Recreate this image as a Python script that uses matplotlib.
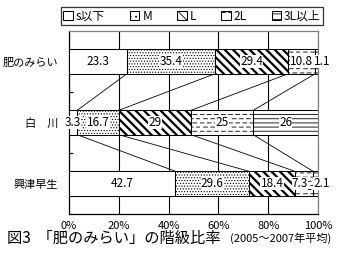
import numpy as np
import matplotlib
matplotlib.use("Agg")
import matplotlib.pyplot as plt
from matplotlib import hatch as mhatch
from matplotlib.path import Path
from matplotlib.patches import Patch

plt.rcParams['font.family'] = ['Noto Sans CJK JP', 'DejaVu Sans']

# ---- data ----
categories = ['肥のみらい', '白\u3000川', '興津早生']
series_names = ['s以下', 'M', 'L', '2L', '3L以上']
s_small = [23.3, 3.3, 42.7]
s_M = [35.4, 16.7, 29.6]
s_L = [29.4, 29.0, 18.4]
s_2L = [10.8, 25.0, 7.3]
s_3L = [1.1, 26.0, 2.1]
value_labels = [['23.3', '35.4', '29.4', '10.8', '1.1'],
                ['3.3', '16.7', '29', '25', '26'],
                ['42.7', '29.6', '18.4', '7.3', '2.1']]
xtick_values = [0, 20, 40, 60, 80, 100]
xtick_labels = ['0%', '20%', '40%', '60%', '80%', '100%']
caption_main = '図3  「肥のみらい」の階級比率'
caption_sub = '(2005～2007年平均)'


# ---- custom dashed horizontal hatch ----
class DashedHorizontal(mhatch.HatchPatternBase):
    def __init__(self, hatch, density):
        self.num_lines = int(hatch.count('~') * density)
        self.ndash = 14
        self.num_vertices = self.num_lines * self.ndash * 2

    def set_vertices_and_codes(self, vertices, codes):
        steps, stepsize = np.linspace(0.0, 1.0, self.num_lines, False, retstep=True)
        steps += stepsize / 2.
        i = 0
        for r, y in enumerate(steps):
            off = 0.5 / self.ndash if r % 2 else 0.0
            for k in range(self.ndash):
                x0 = (k / self.ndash + off) % 1.0
                x1 = x0 + 0.55 / self.ndash
                vertices[i] = (x0, y)
                vertices[i + 1] = (min(x1, 1.0), y)
                codes[i] = Path.MOVETO
                codes[i + 1] = Path.LINETO
                i += 2


mhatch._hatch_types.append(DashedHorizontal)

series = [s_small, s_M, s_L, s_2L, s_3L]
hatches = [None, '......', '\\\\\\\\', '~~~~', '----']
hatch_lw = [0.6, 0.5, 1.6, 0.6, 0.6]

fig = plt.figure(figsize=(3.41, 2.68), dpi=100)
W, H = 341, 268
ax = fig.add_axes([69 / W, 1 - 214 / H, 249 / W, 183 / H])

ypos = np.arange(len(categories))
bar_h = 0.4
left = np.zeros(len(categories))
for s, vals in enumerate(series):
    vals = np.array(vals, dtype=float)
    plt.rcParams['hatch.linewidth'] = hatch_lw[s]
    ax.barh(ypos, vals, left=left, height=bar_h, color='white',
            edgecolor='black', linewidth=0.75, hatch=hatches[s], zorder=3)
    left = left + vals

# data labels
offsets_px = {(0, 4): 6, (2, 3): -4, (2, 4): 6}
cum = np.cumsum(np.array(series).T, axis=1)
for i in range(len(categories)):
    starts = np.concatenate([[0], cum[i][:-1]])
    for s in range(len(series)):
        xc = starts[s] + series[s][i] / 2
        dx = offsets_px.get((i, s), 0) * 0.72
        ax.annotate(value_labels[i][s], (xc, ypos[i]), xytext=(dx, 0),
                    textcoords='offset points', ha='center', va='center',
                    fontsize=8.5, zorder=5,
                    bbox=dict(boxstyle='square,pad=0.02', fc='white', ec='none'))

# series lines
for i in range(len(categories) - 1):
    for s in range(len(series) - 1):
        ax.plot([cum[i][s], cum[i + 1][s]],
                [ypos[i] + bar_h / 2, ypos[i + 1] - bar_h / 2],
                color='black', lw=0.6, zorder=2)

ax.set_xlim(0, 100)
ax.set_ylim(len(categories) - 0.5, -0.5)
ax.set_xticks(xtick_values)
ax.set_xticklabels(xtick_labels, fontsize=8)
ax.tick_params(axis='x', length=0, pad=5)
ax.set_yticks(ypos)
ax.set_yticklabels(categories, fontsize=8)
ax.tick_params(axis='y', which='major', length=0, pad=8)
ax.set_yticks([0.5, 1.5], minor=True)
ax.tick_params(axis='y', which='minor', length=3, direction='in', width=0.8)
ax.grid(axis='x', color='black', lw=0.8, zorder=1)
ax.set_axisbelow(True)
for sp in ['left', 'bottom']:
    ax.spines[sp].set_color('black')
    ax.spines[sp].set_linewidth(0.9)
for sp in ['top', 'right']:
    ax.spines[sp].set_color('#808080')
    ax.spines[sp].set_linewidth(0.9)

# legend
plt.rcParams['hatch.linewidth'] = 0.6
leg_hatches = [None, '...', '\\\\\\\\', '~~', '---']
handles = [Patch(facecolor='white', edgecolor='black', linewidth=0.75,
                 hatch=leg_hatches[s]) for s in range(len(series))]
leg = fig.legend(handles, series_names, ncol=5, loc='lower left',
                 bbox_to_anchor=(61 / W, 1 - 25 / H, 262 / W, 23 / H),
                 mode='expand', fontsize=8.5,
                 frameon=True, fancybox=False, edgecolor='black',
                 handlelength=0.8, handleheight=0.8, handletextpad=0.25,
                 columnspacing=1.0, borderpad=0.2, borderaxespad=0)
leg.get_frame().set_linewidth(0.9)

# caption
fig.text(7 / W, 1 - 238 / H, caption_main, ha='left', va='center', fontsize=11)
fig.text(230 / W, 1 - 238 / H, caption_sub, ha='left', va='center', fontsize=8)

fig.savefig('out.png', dpi=100)
